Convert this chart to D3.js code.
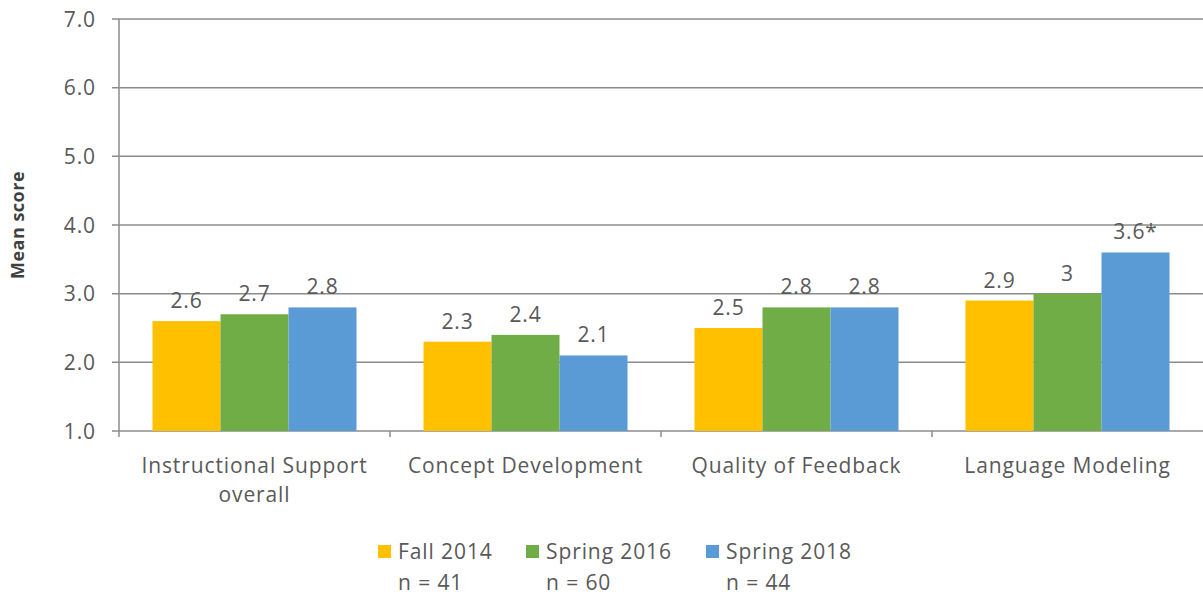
<!DOCTYPE html>
<html><head><meta charset="utf-8">
<script src="https://cdn.jsdelivr.net/npm/d3@7"></script>
<style>body{margin:0;background:#fff}svg{display:block}</style>
</head><body>
<script>
const categories = [["Instructional Support","overall"],["Concept Development"],["Quality of Feedback"],["Language Modeling"]];
const seriesNames = ["Fall 2014","Spring 2016","Spring 2018"];
const seriesN = ["n = 41","n = 60","n = 44"];
const fall2014 = [2.6,2.3,2.5,2.9];
const spring2016 = [2.7,2.4,2.8,3.0];
const spring2018 = [2.8,2.1,2.8,3.6];
const labels2014 = ["2.6","2.3","2.5","2.9"];
const labels2016 = ["2.7","2.4","2.8","3"];
const labels2018 = ["2.8","2.1","2.8","3.6*"];
const yTicks = [1,2,3,4,5,6,7];
const colors = ["#FFC000","#70AD47","#5B9BD5"];

(function(){
const W=1203,H=599;
const svg=d3.select("body").append("svg").attr("width",W).attr("height",H);
const font="'Open Sans', 'Liberation Sans', sans-serif";
const fs=21, ls="0.9px", tc="#595959";
const pL=119,pR=1203,pT=19,pB=431;
const x=d3.scaleBand().domain(d3.range(4)).range([pL,pR]).paddingInner(0).paddingOuter(0);
const y=d3.scaleLinear().domain([1,7]).range([pB,pT]);
const groupPad=33.5;
const xs=d3.scaleBand().domain(d3.range(3)).range([groupPad,x.bandwidth()-groupPad]);
const T=sel=>sel.attr("font-family",font).attr("font-size",fs).attr("letter-spacing",ls).attr("fill",tc);

svg.append("g").selectAll("line").data(yTicks).join("line")
 .attr("x1",pL-7).attr("x2",pR).attr("y1",d=>y(d)).attr("y2",d=>y(d))
 .attr("stroke","#8c8c8c").attr("stroke-width",1.5);
svg.append("g").selectAll("text").data(yTicks).join("text")
 .attr("x",pL-23).attr("y",d=>y(d)).attr("dy","0.36em").attr("text-anchor","end")
 .call(T).text(d=>d.toFixed(1));
svg.append("line").attr("x1",pL).attr("x2",pL).attr("y1",pT).attr("y2",pB+6).attr("stroke","#8c8c8c").attr("stroke-width",1.5);
svg.append("g").selectAll("line").data(d3.range(1,4)).join("line")
 .attr("x1",d=>x(d)).attr("x2",d=>x(d)).attr("y1",pB).attr("y2",pB+6).attr("stroke","#8c8c8c").attr("stroke-width",1.5);

const data=[fall2014,spring2016,spring2018];
const lab=[labels2014,labels2016,labels2018];
data.forEach((arr,si)=>{
  const g=svg.append("g");
  g.selectAll("rect").data(arr).join("rect")
   .attr("x",(d,i)=>x(i)+xs(si)).attr("width",xs.bandwidth())
   .attr("y",d=>y(d)).attr("height",d=>y(1)-y(d)).attr("fill",colors[si]);
  g.selectAll("text").data(arr).join("text")
   .attr("x",(d,i)=>x(i)+xs(si)+xs.bandwidth()/2).attr("y",d=>y(d)-13)
   .attr("text-anchor","middle").call(T)
   .text((d,i)=>lab[si][i]);
});

categories.forEach((lines,i)=>{
  lines.forEach((t,j)=>{
    svg.append("text").attr("x",x(i)+x.bandwidth()/2).attr("y",473+j*29)
     .attr("text-anchor","middle").call(T).text(t);
  });
});

svg.append("text").attr("transform",`translate(24,225) rotate(-90)`).attr("text-anchor","middle")
 .attr("font-family",font).attr("font-size",18).attr("letter-spacing","0.5px").attr("font-weight","bold").attr("fill","#404040").text("Mean score");

const legX=[378,526,706];
seriesNames.forEach((n,i)=>{
  svg.append("rect").attr("x",legX[i]).attr("y",545).attr("width",13).attr("height",13).attr("fill",colors[i]);
  svg.append("text").attr("x",legX[i]+20).attr("y",559).call(T).text(n);
  svg.append("text").attr("x",legX[i]+20).attr("y",590).call(T).text(seriesN[i]);
});
})();
</script>
</body></html>
